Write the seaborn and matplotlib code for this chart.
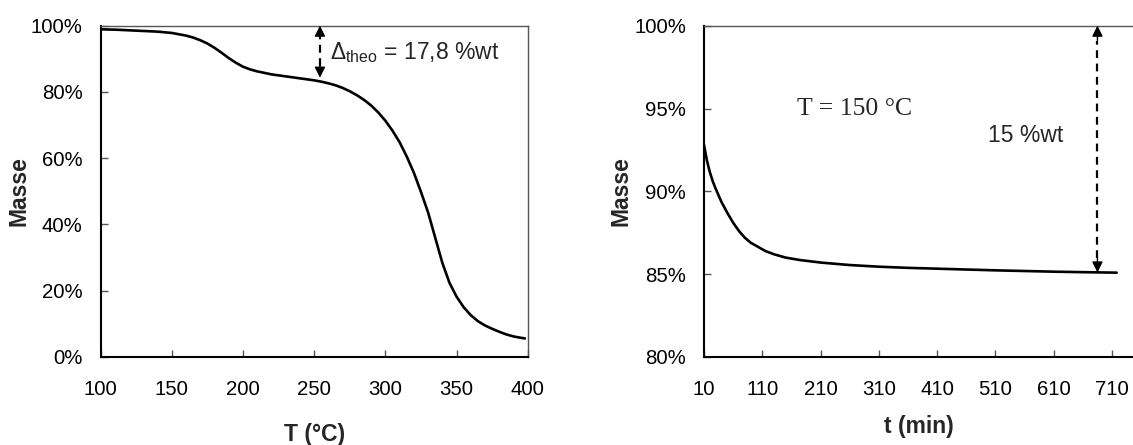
import numpy as np
import pandas as pd
import matplotlib
matplotlib.use("Agg")
import matplotlib.pyplot as plt
import seaborn as sns
from matplotlib.ticker import PercentFormatter, MultipleLocator

# left panel: TGA ramp
temp = [100, 110, 120, 130, 140, 150, 160, 165, 170, 175, 180, 185, 190, 195,
        200, 205, 210, 220, 230, 240, 250, 255, 260, 265, 270, 275, 280, 285,
        290, 295, 300, 305, 310, 315, 320, 325, 330, 335, 340, 345, 350, 355,
        360, 365, 370, 375, 380, 385, 390, 395, 398]
masse_temp = [98.9, 98.8, 98.6, 98.4, 98.2, 97.8, 97.0, 96.4, 95.6, 94.6, 93.3,
              91.8, 90.2, 88.8, 87.6, 86.8, 86.2, 85.3, 84.7, 84.1, 83.5, 83.1,
              82.6, 82.0, 81.2, 80.2, 79.0, 77.6, 75.9, 73.8, 71.3, 68.3, 64.8,
              60.5, 55.6, 49.8, 43.6, 36.0, 28.4, 22.4, 18.2, 15.0, 12.6, 10.8,
              9.5, 8.5, 7.6, 6.8, 6.2, 5.8, 5.6]

# right panel: isotherm at 150 °C
time = [10, 15, 20, 25, 30, 40, 50, 60, 70, 80, 90, 100, 115, 130, 150, 175,
        210, 260, 310, 360, 410, 460, 510, 560, 610, 660, 718]
masse_time = [92.8, 91.85, 91.15, 90.6, 90.15, 89.35, 88.7, 88.1, 87.6, 87.2,
              86.9, 86.7, 86.4, 86.2, 86.0, 85.85, 85.7, 85.55, 85.45, 85.38,
              85.33, 85.28, 85.23, 85.19, 85.15, 85.12, 85.09]

sns.set_style("ticks")
plt.rcParams["font.family"] = ["Liberation Sans", "DejaVu Sans"]
plt.rcParams["mathtext.fontset"] = "custom"
plt.rcParams["mathtext.rm"] = "Liberation Sans"
plt.rcParams["mathtext.it"] = "Liberation Sans:italic"

df1 = pd.DataFrame({"T": temp, "Masse": masse_temp})
df2 = pd.DataFrame({"t": time, "Masse": masse_time})

fig = plt.figure(figsize=(11.33, 4.45), dpi=100)
ax1 = fig.add_axes([0.0889, 0.1978, 0.3769, 0.7445])
ax2 = fig.add_axes([0.6214, 0.1978, 0.3786, 0.7445])

sns.lineplot(data=df1, x="T", y="Masse", ax=ax1, color="black", lw=1.9)
sns.lineplot(data=df2, x="t", y="Masse", ax=ax2, color="black", lw=1.9)

ax1.set_xlim(100, 400)
ax1.set_ylim(0, 100)
ax1.xaxis.set_major_locator(MultipleLocator(50))
ax1.yaxis.set_major_locator(MultipleLocator(20))

ax2.set_xlim(10, 746)
ax2.set_ylim(80, 100)
ax2.set_xticks([10, 110, 210, 310, 410, 510, 610, 710])
ax2.yaxis.set_major_locator(MultipleLocator(5))

for ax in (ax1, ax2):
    ax.yaxis.set_major_formatter(PercentFormatter(100, decimals=0))
    ax.tick_params(direction="in", length=5, width=1, color="#555555",
                   labelsize=14.7, colors="black")
    ax.tick_params(axis="x", pad=16.5)
    ax.tick_params(axis="y", pad=13)
    for s in ("left", "bottom"):
        ax.spines[s].set_color("black")
        ax.spines[s].set_linewidth(1.5)
    for s in ("top", "right"):
        ax.spines[s].set_color("#555555")
        ax.spines[s].set_linewidth(1.0)
    ax.set_ylabel("Masse", fontsize=16.5, fontweight="bold")

ax1.yaxis.set_label_coords(-0.165, 0.5)
ax2.yaxis.set_label_coords(-0.167, 0.5)
ax2.spines["right"].set_visible(False)

ax1.set_xlabel("T (°C)", fontsize=16.5, fontweight="bold")
ax1.xaxis.set_label_coords(0.5, -0.198)
ax2.set_xlabel("t (min)", fontsize=16.5, fontweight="bold")
ax2.xaxis.set_label_coords(0.5, -0.175)


def dashed_arrow(ax, x, y0, y1, head):
    # dashed shaft with solid heads at both ends
    ax.plot([x, x], [y0 + head, y1 - head], ls=(0, (3.5, 2.5)), color="black", lw=1.6)
    ax.annotate("", xy=(x, y1), xytext=(x, y1 - head),
                arrowprops=dict(arrowstyle="-|>", color="black", lw=1,
                                mutation_scale=16, shrinkA=0, shrinkB=0))
    ax.annotate("", xy=(x, y0), xytext=(x, y0 + head),
                arrowprops=dict(arrowstyle="-|>", color="black", lw=1,
                                mutation_scale=16, shrinkA=0, shrinkB=0))


dashed_arrow(ax1, 254, 84.3, 100, 3.5)
ax1.text(261, 90, r"$\Delta_{\rm theo}$ = 17,8 %wt", fontsize=16.5, va="baseline")

dashed_arrow(ax2, 685, 85.1, 100, 0.9)
ax2.text(169, 95.0, "T = 150 °C", fontsize=18.5, va="center",
         family=["Liberation Serif", "DejaVu Serif"])
ax2.text(498, 93.4, "15 %wt", fontsize=16.5, va="center")

fig.savefig("out.png", dpi=100)
